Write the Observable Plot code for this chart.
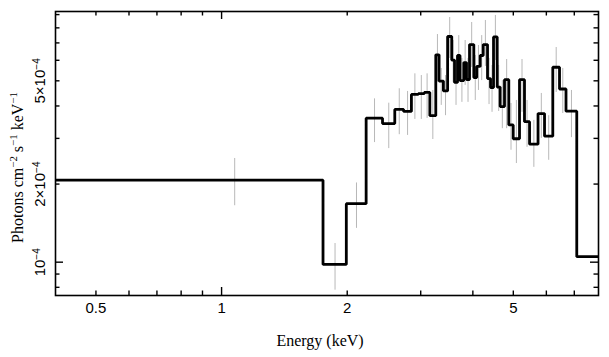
<!DOCTYPE html>
<html><head><meta charset="utf-8">
<script src="https://cdn.jsdelivr.net/npm/d3@7"></script>
<script src="https://cdn.jsdelivr.net/npm/@observablehq/plot@0.6"></script>
<style>body{margin:0;background:#fff}</style>
</head><body><div id="chart"></div>
<script>
// Bin edges (keV)
const binEdges = [0.40, 1.75, 1.99, 2.22, 2.43, 2.60, 2.73, 2.85, 2.96, 3.06, 3.155, 3.26, 3.32, 3.40, 3.48, 3.56, 3.615, 3.675, 3.726, 3.805, 3.862, 3.927, 4.021, 4.086, 4.165, 4.235, 4.337, 4.41, 4.483, 4.575, 4.65, 4.763, 4.877, 4.997, 5.174, 5.318, 5.469, 5.731, 5.940, 6.217, 6.452, 6.687, 7.096, 8.0];
// Flux per bin (photons cm^-2 s^-1 keV^-1)
const flux = [2.07e-4, 0.98e-4, 1.68e-4, 3.59e-4, 3.42e-4, 3.88e-4, 3.81e-4, 4.43e-4, 4.46e-4, 4.51e-4, 3.67e-4, 6.30e-4, 4.99e-4, 4.57e-4, 7.41e-4, 6.01e-4, 4.93e-4, 6.26e-4, 5.01e-4, 5.88e-4, 5.06e-4, 6.90e-4, 5.15e-4, 5.68e-4, 6.26e-4, 6.90e-4, 5.10e-4, 4.71e-4, 7.38e-4, 4.73e-4, 3.98e-4, 5.05e-4, 3.38e-4, 2.99e-4, 5.05e-4, 3.48e-4, 2.85e-4, 3.74e-4, 3.06e-4, 5.64e-4, 4.65e-4, 3.82e-4, 1.05e-4];
// Error bar lower / upper bounds
const errLo = [1.65e-4, 0.78e-4, 1.35e-4, 2.89e-4, 2.74e-4, 3.10e-4, 3.08e-4, 3.55e-4, 3.55e-4, 3.58e-4, 2.97e-4, 4.94e-4, 4.02e-4, 3.67e-4, 6.10e-4, 4.93e-4, 4.02e-4, 5.01e-4, 4.13e-4, 4.80e-4, 4.13e-4, 5.63e-4, 4.20e-4, 4.59e-4, 5.01e-4, 5.68e-4, 4.05e-4, 3.78e-4, 5.99e-4, 3.81e-4, 3.27e-4, 3.27e-4, 2.70e-4, 2.40e-4, 3.78e-4, 2.77e-4, 2.32e-4, 3.00e-4, 2.47e-4, 4.51e-4, 3.74e-4, 3.02e-4, null];
const errHi = [2.51e-4, 1.18e-4, 2.02e-4, 4.26e-4, 4.10e-4, 4.66e-4, 4.55e-4, 5.32e-4, 5.24e-4, 5.32e-4, 4.59e-4, 7.54e-4, 5.58e-4, 5.24e-4, 8.77e-4, 7.15e-4, 5.99e-4, 7.47e-4, 6.10e-4, 7.15e-4, 6.10e-4, 8.39e-4, 6.26e-4, 6.84e-4, 7.47e-4, 8.54e-4, 6.10e-4, 5.73e-4, 8.93e-4, 5.73e-4, 5.01e-4, 6.04e-4, 4.09e-4, 4.20e-4, 6.04e-4, 4.20e-4, 3.52e-4, 4.47e-4, 3.67e-4, 6.72e-4, 5.58e-4, 4.59e-4, null];

const xLabelVals = [0.5, 1, 2, 5];
const xLabelText = ["0.5", "1", "2", "5"];
const yLabelVals = [1e-4, 2e-4, 5e-4];
const yLabelText = ["10\u207B\u2074", "2\u00D710\u207B\u2074", "5\u00D710\u207B\u2074"];
const xMajorTicks = [1];
const xMinorTicks = [0.5, 0.6, 0.7, 0.8, 0.9, 2, 3, 4, 5, 6, 7];
const yMajorTicks = [1e-4];
const yMinorTicks = [8e-5, 9e-5, 2e-4, 3e-4, 4e-4, 5e-4, 6e-4, 7e-4, 8e-4, 9e-4];
const xTitle = "Energy (keV)";
const yTitle = "Photons cm\u207B\u00B2 s\u207B\u00B9 keV\u207B\u00B9";

// Build step line and error bars from the arrays
const steps = [];
const errs = [];
for (let i = 0; i < flux.length; i++) {
  steps.push({x: binEdges[i], y: flux[i]});
  steps.push({x: binEdges[i + 1], y: flux[i]});
  if (errLo[i] != null) errs.push({x: (binEdges[i] + binEdges[i + 1]) / 2, y1: errLo[i], y2: errHi[i]});
}

const W = 609, H = 357, mL = 55, mR = 11, mT = 11, mB = 62;
const fw = W - mL - mR, fh = H - mT - mB;
const sans = "'Liberation Sans', Arial, Helvetica, sans-serif";
const serif = "'Liberation Serif', 'Times New Roman', serif";

const plot = Plot.plot({
  width: W, height: H,
  marginLeft: mL, marginRight: mR, marginTop: mT, marginBottom: mB,
  x: {type: "log", domain: [0.4, 8], axis: null},
  y: {type: "log", domain: [7.44e-5, 9.25e-4], axis: null},
  marks: [
    Plot.ruleX(errs, {x: "x", y1: "y1", y2: "y2", stroke: "#b8b8b8", strokeWidth: 1}),
    Plot.line(steps, {x: "x", y: "y", stroke: "#000", strokeWidth: 2.8, strokeLinejoin: "miter", strokeLinecap: "butt"}),
    // ticks (inward) on four sides
    Plot.tickX(xMajorTicks, {x: d => d, insetTop: fh - 8, stroke: "#000", strokeWidth: 1.4}),
    Plot.tickX(xMajorTicks, {x: d => d, insetBottom: fh - 8, stroke: "#000", strokeWidth: 1.4}),
    Plot.tickX(xMinorTicks, {x: d => d, insetTop: fh - 4.5, stroke: "#000", strokeWidth: 1.4}),
    Plot.tickX(xMinorTicks, {x: d => d, insetBottom: fh - 4.5, stroke: "#000", strokeWidth: 1.4}),
    Plot.tickY(yMajorTicks, {y: d => d, insetRight: fw - 8, stroke: "#000", strokeWidth: 1.4}),
    Plot.tickY(yMajorTicks, {y: d => d, insetLeft: fw - 8, stroke: "#000", strokeWidth: 1.4}),
    Plot.tickY(yMinorTicks, {y: d => d, insetRight: fw - 4.5, stroke: "#000", strokeWidth: 1.4}),
    Plot.tickY(yMinorTicks, {y: d => d, insetLeft: fw - 4.5, stroke: "#000", strokeWidth: 1.4}),
    Plot.frame({stroke: "#000", strokeWidth: 1.6}),
    // tick labels
    Plot.text(xLabelVals, {x: d => d, text: (d, i) => xLabelText[i], frameAnchor: "bottom", lineAnchor: "middle", textAnchor: "middle", dy: 13, fontSize: 15, fontFamily: sans, fill: "#000"}),
    Plot.text(yLabelVals, {y: d => d, text: (d, i) => yLabelText[i], frameAnchor: "left", lineAnchor: "middle", textAnchor: "middle", dx: -15, rotate: -90, fontSize: 15, fontFamily: sans, fill: "#000"}),
    // axis titles
    Plot.text([xTitle], {text: d => d, frameAnchor: "bottom", lineAnchor: "middle", textAnchor: "middle", dy: 45, dx: -7, fontSize: 16, fontFamily: serif, fill: "#000"}),
    Plot.text([yTitle], {text: d => d, frameAnchor: "left", lineAnchor: "middle", textAnchor: "middle", dx: -38, dy: 14, rotate: -90, fontSize: 16, fontFamily: serif, fill: "#000"})
  ]
});
document.getElementById("chart").appendChild(plot);

// Render Unicode superscripts as raised, smaller tspans
const supMap = {"\u207B": "\u2212", "\u2070": "0", "\u00B9": "1", "\u00B2": "2", "\u00B3": "3", "\u2074": "4", "\u2075": "5"};
plot.querySelectorAll("text").forEach(t => {
  const s = t.textContent;
  if (!/[\u207B\u2070\u00B9\u00B2\u00B3\u2074\u2075]/.test(s)) return;
  const runs = [];
  for (const ch of s) {
    const sup = ch in supMap;
    const c = sup ? supMap[ch] : ch;
    if (runs.length && runs[runs.length - 1].sup === sup) runs[runs.length - 1].t += c;
    else runs.push({sup, t: c});
  }
  t.textContent = "";
  let raised = false;
  for (const r of runs) {
    const ts = document.createElementNS("http://www.w3.org/2000/svg", "tspan");
    ts.textContent = r.t;
    if (r.sup) { ts.setAttribute("font-size", "0.68em"); ts.setAttribute("dy", "-0.55em"); raised = true; }
    else if (raised) { ts.setAttribute("dy", "0.374em"); raised = false; }
    t.appendChild(ts);
  }
});
</script>
</body></html>
